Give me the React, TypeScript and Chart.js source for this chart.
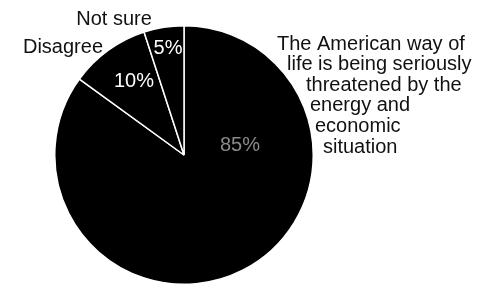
import React, { useEffect, useRef } from "react";
import { Chart, registerables } from "chart.js";

Chart.register(...registerables);

const categories = ["Agree", "Disagree", "Not sure"];
const values = [85, 10, 5];
const percentLabels = ["85%", "10%", "5%"];
const outsideLabels = ["", "Disagree", "Not sure"];
const agreeText = [
  "The American way of",
  "life is being seriously",
  "threatened by the",
  "energy and",
  "economic",
  "situation",
];

const FONT = "'Liberation Sans', Arial, Helvetica, sans-serif";

const labelPlugin = {
  id: "labels",
  afterDraw(chart: any) {
    const ctx = chart.ctx;
    const arc = chart.getDatasetMeta(0).data[0];
    const cx = arc.x;
    const cy = arc.y;
    ctx.save();
    ctx.font = `20px ${FONT}`;
    ctx.textBaseline = "alphabetic";
    // percent labels (offsets relative to pie center)
    const pctPos = [
      { dx: 56, dy: -4, color: "#8a8a8a" },
      { dx: -50, dy: -68, color: "#ffffff" },
      { dx: -16, dy: -101, color: "#ffffff" },
    ];
    ctx.textAlign = "center";
    percentLabels.forEach((t, i) => {
      ctx.fillStyle = pctPos[i].color;
      ctx.fillText(t, cx + pctPos[i].dx, cy + pctPos[i].dy);
    });
    // outside labels
    ctx.fillStyle = "#111";
    const outPos = [null, { dx: -121, dy: -102 }, { dx: -70, dy: -130 }];
    outsideLabels.forEach((t, i) => {
      const p = outPos[i];
      if (!p || !t) return;
      ctx.fillText(t, cx + p.dx, cy + p.dy);
    });
    // agree text block
    ctx.textAlign = "left";
    const lefts = [93, 103, 122, 126, 131, 139];
    const baselines = [-105, -85, -64, -44, -23, -2];
    agreeText.forEach((t, i) => {
      ctx.fillText(t, cx + lefts[i], cy + baselines[i]);
    });
    ctx.restore();
  },
};

export default function App() {
  const ref = useRef<HTMLCanvasElement>(null);
  useEffect(() => {
    if (!ref.current) return;
    const chart = new Chart(ref.current, {
      type: "pie",
      data: {
        labels: categories,
        datasets: [
          {
            data: values,
            backgroundColor: "#000000",
            borderColor: "#ffffff",
            borderWidth: 1.5,
          },
        ],
      },
      options: {
        responsive: false,
        animation: false,
        layout: { padding: { top: 25, bottom: 0, left: 54, right: 171 } },
        plugins: {
          legend: { display: false },
          tooltip: { enabled: false },
        },
      },
      plugins: [labelPlugin],
    });
    return () => chart.destroy();
  }, []);
  return (
    <div style={{ position: "fixed", left: 0, top: 0, width: 485, height: 285, background: "#fff" }}>
      <canvas ref={ref} width={485} height={285} style={{ width: 485, height: 285 }} />
    </div>
  );
}
